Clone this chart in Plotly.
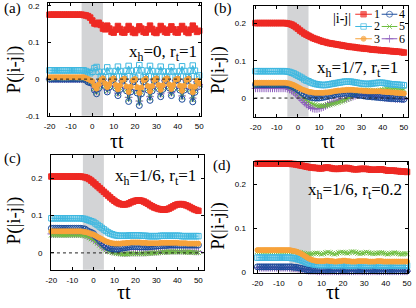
import plotly.graph_objects as go

# ---------------- data ----------------
T = list(range(-20, 51))  # tau*t grid

SERIES = ["1", "2", "3", "4", "5", "6"]

a_1 = [0.176,0.176,0.176,0.176,0.176,0.176,0.176,0.176,0.176,0.176,0.176,0.176,0.176,0.176,0.176,
       0.176,0.175,0.174,0.172,0.168,
       0.160,0.152,0.150,0.154,0.148,
       0.138,0.136,0.146,0.138,0.129,
       0.127,0.135,0.145,0.137,0.128,
       0.127,0.135,0.145,0.137,0.128,
       0.126,0.134,0.144,0.138,0.129,
       0.127,0.136,0.146,0.137,0.128,
       0.126,0.134,0.145,0.138,0.129,
       0.127,0.135,0.144,0.136,0.128,
       0.127,0.136,0.145,0.137,0.129,
       0.126,0.135,0.146,0.138,0.129,
       0.132]
a_2 = [0.024,0.024,0.024,0.024,0.024,0.024,0.024,0.024,0.024,0.024,0.024,0.024,0.024,0.024,0.024,
       0.024,0.024,0.022,0.019,0.016,
       0.020,0.030,0.033,0.020,0.008,
       0.006,0.020,0.032,0.022,0.008,
       0.005,0.022,0.034,0.022,0.007,
       0.005,0.023,0.036,0.023,0.006,
       0.004,0.024,0.038,0.024,0.006,
       0.005,0.023,0.036,0.022,0.006,
       0.006,0.022,0.034,0.021,0.007,
       0.006,0.021,0.033,0.021,0.007,
       0.006,0.022,0.035,0.022,0.006,
       0.005,0.023,0.037,0.023,0.006,
       0.010]
a_3 = [0.005,0.005,0.005,0.005,0.005,0.005,0.005,0.005,0.005,0.005,0.005,0.005,0.005,0.005,0.005,
       0.005,0.005,0.003,0.000,-0.003,
       -0.006,-0.018,-0.026,-0.015,-0.002,
       0.002,-0.012,-0.022,-0.014,-0.001,
       0.002,-0.016,-0.028,-0.017,-0.002,
       0.001,-0.020,-0.035,-0.021,-0.003,
       0.000,-0.022,-0.038,-0.023,-0.003,
       0.001,-0.019,-0.033,-0.019,-0.002,
       0.002,-0.016,-0.029,-0.017,-0.001,
       0.002,-0.015,-0.027,-0.016,-0.001,
       0.001,-0.018,-0.032,-0.018,-0.002,
       0.001,-0.020,-0.036,-0.021,-0.004,
       -0.012]
a_4 = [0.000,0.000,0.000,0.000,0.000,0.000,0.000,0.000,0.000,0.000,0.000,0.000,0.000,0.000,0.000,
       0.000,0.000,-0.003,-0.008,-0.010,
       -0.012,-0.030,-0.040,-0.025,-0.005,
       0.000,-0.020,-0.035,-0.022,-0.004,
       0.000,-0.025,-0.045,-0.028,-0.006,
       0.000,-0.032,-0.061,-0.035,-0.008,
       -0.002,-0.038,-0.072,-0.040,-0.008,
       0.000,-0.030,-0.058,-0.032,-0.006,
       0.000,-0.026,-0.048,-0.028,-0.005,
       0.000,-0.024,-0.045,-0.026,-0.004,
       -0.001,-0.030,-0.055,-0.030,-0.006,
       0.000,-0.033,-0.062,-0.036,-0.010,
       -0.020]
a_5 = [0.001,0.001,0.001,0.001,0.001,0.001,0.001,0.001,0.001,0.001,0.001,0.001,0.001,0.001,0.001,
       0.001,0.000,-0.002,-0.006,-0.009,
       -0.012,-0.026,-0.036,-0.022,-0.004,
       0.001,-0.018,-0.032,-0.020,-0.003,
       0.001,-0.022,-0.040,-0.024,-0.004,
       0.000,-0.028,-0.055,-0.030,-0.006,
       -0.001,-0.034,-0.065,-0.036,-0.006,
       0.001,-0.027,-0.052,-0.028,-0.004,
       0.001,-0.023,-0.043,-0.025,-0.003,
       0.001,-0.021,-0.040,-0.023,-0.003,
       0.000,-0.027,-0.050,-0.027,-0.004,
       0.001,-0.029,-0.056,-0.032,-0.008,
       -0.016]
a_6 = [0.000,0.000,0.000,0.000,0.000,0.000,0.000,0.000,0.000,0.000,0.000,0.000,0.000,0.000,0.000,
       0.000,0.000,-0.002,-0.005,-0.008,
       -0.010,-0.024,-0.033,-0.020,-0.004,
       0.000,-0.017,-0.030,-0.018,-0.003,
       0.000,-0.020,-0.038,-0.022,-0.004,
       0.000,-0.026,-0.050,-0.028,-0.005,
       -0.001,-0.031,-0.060,-0.033,-0.006,
       0.000,-0.025,-0.048,-0.026,-0.004,
       0.000,-0.021,-0.040,-0.023,-0.003,
       0.000,-0.020,-0.037,-0.021,-0.003,
       0.000,-0.025,-0.046,-0.025,-0.004,
       0.000,-0.027,-0.052,-0.030,-0.007,
       -0.015]

b_1 = [0.201,0.201,0.201,0.201,0.201,0.201,0.201,0.201,0.201,0.201,0.201,0.201,0.201,0.201,0.201,
       0.200,0.199,0.197,0.194,0.190,
       0.186,0.181,0.177,0.173,0.170,
       0.167,0.164,0.161,0.159,0.157,
       0.155,0.153,0.151,0.150,0.148,
       0.147,0.146,0.145,0.144,0.143,
       0.142,0.141,0.140,0.139,0.138,
       0.137,0.137,0.136,0.135,0.134,
       0.134,0.133,0.132,0.132,0.131,
       0.130,0.130,0.129,0.129,0.128,
       0.128,0.127,0.127,0.126,0.126,
       0.125,0.125,0.124,0.124,0.123,
       0.122]
b_2 = [0.072,0.072,0.072,0.072,0.072,0.072,0.072,0.072,0.072,0.072,0.072,0.072,0.072,0.072,0.072,
       0.071,0.070,0.068,0.066,0.063,
       0.060,0.057,0.054,0.050,0.047,
       0.045,0.042,0.040,0.038,0.037,
       0.036,0.035,0.035,0.035,0.036,
       0.037,0.038,0.039,0.040,0.041,
       0.042,0.043,0.044,0.044,0.044,
       0.044,0.043,0.042,0.041,0.040,
       0.039,0.038,0.038,0.038,0.038,
       0.039,0.040,0.040,0.041,0.041,
       0.041,0.040,0.039,0.038,0.037,
       0.037,0.036,0.036,0.035,0.035,
       0.034]
b_3 = [0.041,0.041,0.041,0.041,0.041,0.041,0.041,0.041,0.041,0.041,0.041,0.041,0.041,0.041,0.041,
       0.040,0.039,0.037,0.035,0.032,
       0.029,0.026,0.023,0.021,0.019,
       0.017,0.016,0.015,0.014,0.014,
       0.014,0.014,0.014,0.015,0.015,
       0.016,0.017,0.018,0.019,0.020,
       0.020,0.021,0.021,0.022,0.022,
       0.022,0.022,0.021,0.021,0.020,
       0.020,0.019,0.019,0.018,0.018,
       0.018,0.018,0.018,0.018,0.018,
       0.017,0.017,0.016,0.016,0.015,
       0.015,0.014,0.014,0.013,0.013,
       0.012]
b_4 = [0.036,0.036,0.036,0.036,0.036,0.036,0.036,0.036,0.036,0.036,0.036,0.036,0.036,0.036,0.036,
       0.035,0.034,0.032,0.029,0.026,
       0.022,0.018,0.014,0.010,0.007,
       0.004,0.002,0.001,0.000,0.000,
       0.000,0.001,0.002,0.003,0.004,
       0.006,0.007,0.009,0.010,0.011,
       0.012,0.012,0.013,0.013,0.012,
       0.012,0.011,0.010,0.009,0.008,
       0.007,0.006,0.005,0.004,0.004,
       0.003,0.003,0.002,0.002,0.001,
       0.001,0.000,0.000,-0.001,-0.001,
       -0.001,-0.002,-0.002,-0.002,-0.003,
       -0.003]
b_5 = [0.034,0.034,0.034,0.034,0.034,0.034,0.034,0.034,0.034,0.034,0.034,0.034,0.034,0.034,0.034,
       0.033,0.031,0.028,0.024,0.019,
       0.014,0.009,0.004,-0.001,-0.005,
       -0.009,-0.013,-0.016,-0.018,-0.020,
       -0.021,-0.021,-0.021,-0.020,-0.019,
       -0.018,-0.016,-0.015,-0.013,-0.012,
       -0.010,-0.008,-0.006,-0.003,0.000,
       0.004,0.008,0.012,0.015,0.018,
       0.020,0.021,0.021,0.021,0.020,
       0.019,0.019,0.019,0.020,0.021,
       0.022,0.023,0.024,0.025,0.025,
       0.025,0.025,0.024,0.024,0.023,
       0.023]
b_6 = [0.026,0.026,0.026,0.026,0.026,0.026,0.026,0.026,0.026,0.026,0.026,0.026,0.026,0.026,0.026,
       0.025,0.023,0.020,0.016,0.011,
       0.006,0.000,-0.006,-0.012,-0.017,
       -0.021,-0.025,-0.028,-0.029,-0.029,
       -0.028,-0.026,-0.024,-0.021,-0.018,
       -0.015,-0.012,-0.010,-0.008,-0.006,
       -0.004,-0.003,-0.002,-0.001,0.000,
       0.002,0.004,0.006,0.008,0.009,
       0.010,0.010,0.010,0.009,0.008,
       0.007,0.006,0.005,0.004,0.003,
       0.002,0.001,0.000,0.000,-0.001,
       -0.001,-0.002,-0.002,-0.002,-0.003,
       -0.003]

c_1 = [0.205,0.205,0.205,0.205,0.205,0.205,0.205,0.205,0.205,0.205,0.205,0.205,0.205,0.205,0.205,
       0.204,0.203,0.201,0.198,0.194,
       0.189,0.184,0.179,0.174,0.169,
       0.164,0.159,0.154,0.149,0.144,
       0.140,0.136,0.133,0.131,0.130,
       0.130,0.131,0.133,0.136,0.138,
       0.140,0.141,0.141,0.140,0.138,
       0.135,0.132,0.128,0.125,0.122,
       0.120,0.118,0.117,0.116,0.116,
       0.117,0.119,0.122,0.125,0.128,
       0.130,0.131,0.131,0.130,0.128,
       0.126,0.123,0.120,0.117,0.115,
       0.113]
c_2 = [0.093,0.093,0.093,0.093,0.093,0.093,0.093,0.093,0.093,0.093,0.093,0.093,0.093,0.093,0.093,
       0.092,0.091,0.089,0.087,0.085,
       0.083,0.079,0.075,0.071,0.067,
       0.063,0.059,0.055,0.052,0.050,
       0.048,0.047,0.046,0.046,0.046,
       0.046,0.046,0.047,0.047,0.047,
       0.047,0.047,0.047,0.046,0.046,
       0.046,0.045,0.045,0.045,0.045,
       0.045,0.045,0.046,0.046,0.046,
       0.046,0.046,0.046,0.046,0.046,
       0.046,0.046,0.045,0.045,0.045,
       0.045,0.045,0.045,0.045,0.045,
       0.045]
c_3 = [0.058,0.058,0.058,0.058,0.058,0.058,0.058,0.058,0.058,0.058,0.058,0.058,0.058,0.058,0.058,
       0.057,0.056,0.055,0.053,0.051,
       0.049,0.046,0.043,0.040,0.037,
       0.034,0.031,0.029,0.027,0.026,
       0.025,0.025,0.025,0.025,0.026,
       0.026,0.027,0.027,0.028,0.028,
       0.028,0.028,0.028,0.027,0.027,
       0.027,0.026,0.026,0.026,0.026,
       0.026,0.026,0.027,0.027,0.027,
       0.027,0.027,0.027,0.027,0.027,
       0.027,0.026,0.026,0.026,0.026,
       0.025,0.025,0.025,0.025,0.025,
       0.025]
c_4 = [0.066,0.066,0.066,0.066,0.066,0.066,0.066,0.066,0.066,0.066,0.066,0.066,0.066,0.066,0.066,
       0.065,0.064,0.060,0.057,0.055,
       0.052,0.044,0.040,0.032,0.027,
       0.022,0.017,0.014,0.012,0.011,
       0.010,0.010,0.011,0.012,0.013,
       0.014,0.015,0.016,0.017,0.017,
       0.017,0.017,0.016,0.016,0.016,
       0.016,0.016,0.017,0.017,0.018,
       0.018,0.019,0.019,0.020,0.020,
       0.020,0.021,0.021,0.021,0.021,
       0.021,0.021,0.021,0.021,0.021,
       0.021,0.021,0.021,0.021,0.021,
       0.021]
c_5 = [0.048,0.048,0.048,0.048,0.048,0.048,0.048,0.048,0.048,0.048,0.048,0.048,0.048,0.048,0.048,
       0.047,0.046,0.044,0.041,0.038,
       0.035,0.030,0.026,0.021,0.016,
       0.012,0.008,0.005,0.003,0.001,
       0.000,-0.001,-0.002,-0.002,-0.003,
       -0.003,-0.003,-0.002,-0.002,-0.002,
       -0.002,-0.002,-0.002,-0.002,-0.002,
       -0.002,-0.001,-0.001,0.000,0.000,
       0.000,0.001,0.001,0.002,0.002,
       0.002,0.003,0.003,0.003,0.003,
       0.003,0.003,0.003,0.003,0.002,
       0.002,0.002,0.002,0.001,0.001,
       0.001]
c_6 = [0.051,0.051,0.051,0.051,0.051,0.051,0.051,0.051,0.051,0.051,0.051,0.051,0.051,0.051,0.051,
       0.050,0.049,0.047,0.044,0.041,
       0.038,0.033,0.029,0.024,0.019,
       0.015,0.011,0.008,0.006,0.004,
       0.003,0.002,0.001,0.001,0.000,
       0.000,0.000,0.001,0.001,0.001,
       0.001,0.001,0.001,0.001,0.001,
       0.001,0.002,0.002,0.003,0.003,
       0.003,0.004,0.004,0.005,0.005,
       0.005,0.006,0.006,0.006,0.006,
       0.006,0.006,0.006,0.006,0.005,
       0.005,0.005,0.005,0.004,0.004,
       0.004]

d_1 = [0.247,0.247,0.247,0.247,0.247,0.247,0.247,0.247,0.247,0.247,0.247,0.247,0.247,0.247,0.247,
       0.247,0.246,0.246,0.245,0.244,
       0.243,0.242,0.241,0.240,0.239,
       0.238,0.238,0.237,0.237,0.236,
       0.236,0.237,0.238,0.238,0.237,
       0.236,0.235,0.235,0.235,0.236,
       0.236,0.237,0.237,0.236,0.235,
       0.234,0.234,0.234,0.235,0.235,
       0.235,0.235,0.234,0.233,0.233,
       0.233,0.233,0.234,0.234,0.233,
       0.232,0.231,0.231,0.231,0.231,
       0.230,0.230,0.229,0.229,0.229,
       0.228]
d_2 = [0.034,0.034,0.034,0.034,0.034,0.034,0.034,0.034,0.034,0.034,0.034,0.034,0.034,0.034,0.034,
       0.034,0.033,0.033,0.032,0.030,
       0.029,0.027,0.025,0.023,0.021,
       0.020,0.019,0.018,0.018,0.017,
       0.017,0.017,0.017,0.017,0.017,
       0.017,0.016,0.016,0.017,0.017,
       0.017,0.017,0.016,0.016,0.016,
       0.016,0.017,0.017,0.017,0.016,
       0.016,0.016,0.016,0.017,0.017,
       0.017,0.016,0.016,0.016,0.016,
       0.016,0.016,0.016,0.016,0.016,
       0.016,0.016,0.016,0.016,0.016,
       0.016]
d_3 = [0.051,0.051,0.051,0.051,0.051,0.051,0.051,0.051,0.051,0.051,0.051,0.051,0.051,0.051,0.051,
       0.051,0.050,0.049,0.048,0.046,
       0.044,0.041,0.038,0.035,0.032,
       0.030,0.028,0.027,0.026,0.026,
       0.026,0.026,0.027,0.027,0.026,
       0.026,0.025,0.025,0.026,0.026,
       0.027,0.027,0.026,0.026,0.025,
       0.025,0.025,0.026,0.026,0.026,
       0.026,0.026,0.025,0.025,0.025,
       0.025,0.026,0.026,0.026,0.025,
       0.025,0.025,0.025,0.025,0.025,
       0.025,0.025,0.025,0.025,0.025,
       0.025]
d_4 = [0.013,0.013,0.013,0.013,0.013,0.013,0.013,0.013,0.013,0.013,0.013,0.013,0.013,0.013,0.013,
       0.013,0.013,0.012,0.012,0.011,
       0.010,0.009,0.008,0.007,0.006,
       0.006,0.005,0.005,0.005,0.005,
       0.005,0.005,0.005,0.005,0.005,
       0.005,0.005,0.004,0.004,0.005,
       0.005,0.005,0.005,0.004,0.004,
       0.004,0.005,0.005,0.005,0.004,
       0.004,0.004,0.004,0.005,0.005,
       0.005,0.004,0.004,0.004,0.004,
       0.004,0.004,0.004,0.004,0.004,
       0.004,0.004,0.004,0.004,0.004,
       0.004]
d_5 = [0.048,0.048,0.048,0.048,0.048,0.048,0.048,0.048,0.048,0.048,0.048,0.048,0.048,0.048,0.048,
       0.048,0.048,0.047,0.047,0.046,
       0.045,0.044,0.043,0.042,0.042,
       0.042,0.043,0.044,0.044,0.043,
       0.042,0.043,0.045,0.046,0.045,
       0.043,0.042,0.043,0.045,0.046,
       0.046,0.045,0.044,0.045,0.047,
       0.047,0.046,0.044,0.043,0.044,
       0.045,0.046,0.045,0.044,0.043,
       0.043,0.044,0.045,0.045,0.044,
       0.043,0.042,0.043,0.044,0.045,
       0.044,0.043,0.042,0.042,0.043,
       0.043]
d_6 = [0.011,0.011,0.011,0.011,0.011,0.011,0.011,0.011,0.011,0.011,0.011,0.011,0.011,0.011,0.011,
       0.011,0.011,0.010,0.010,0.009,
       0.008,0.007,0.006,0.005,0.004,
       0.004,0.004,0.004,0.003,0.003,
       0.003,0.003,0.003,0.003,0.003,
       0.003,0.003,0.003,0.003,0.003,
       0.003,0.003,0.003,0.003,0.003,
       0.003,0.003,0.003,0.003,0.003,
       0.003,0.003,0.003,0.003,0.003,
       0.003,0.003,0.003,0.003,0.003,
       0.003,0.003,0.003,0.003,0.003,
       0.003,0.003,0.003,0.003,0.003,
       0.003]

X_TICKS = [-20, -10, 0, 10, 20, 30, 40, 50]
X_TICK_TEXT = ["-20", "-10", "0", "10", "20", "30", "40", "50"]
Y_TICKS_A = [-0.1, 0, 0.1, 0.2]
Y_TICK_TEXT_A = ["-0.1", "0", "0.1", "0.2"]
Y_TICKS = [0, 0.1, 0.2]
Y_TICK_TEXT = ["0", "0.1", "0.2"]
QUENCH = (-5, 5)

PANEL_LABELS = ["(a)", "(b)", "(c)", "(d)"]
PANEL_TEXT = ["x<sub>h</sub>=0, r<sub>t</sub>=1",
              "x<sub>h</sub>=1/7, r<sub>t</sub>=1",
              "x<sub>h</sub>=1/6, r<sub>t</sub>=1",
              "x<sub>h</sub>=1/6, r<sub>t</sub>=0.2"]

# ---------------- styling ----------------
W, H = 416, 308
SERIF = "Liberation Serif, Times New Roman, serif"
SANS = "Liberation Sans, Arial, sans-serif"
COLORS = ["#ee2a24", "#3fb8e0", "#f7a23a", "#1c4d9c", "#6cbd3c", "#8c5bbd"]
SYMBOLS = ["square", "square-open", "circle", "circle-open", "x-thin", "cross-thin"]
MSIZE = [5.5, 5.5, 5, 6, 5, 5.5]
DRAW_ORDER = [5, 4, 3, 1, 2, 0]

def px_dom_x(a, b):
    return [a / W, b / W]

def px_dom_y(top, bottom):
    return [1 - bottom / H, 1 - top / H]

panels = [
    dict(data=[a_1, a_2, a_3, a_4, a_5, a_6], xd=(44, 200), yd=(2, 117), xr=[-20.7, 50.7],
         yr=[-0.1, 0.208], yt=(Y_TICKS_A, Y_TICK_TEXT_A), zero=True,
         lab=(8, 8), txt=(198, 53), yt_pos=(9, 70), xt_pos=(114, 143)),
    dict(data=[b_1, b_2, b_3, b_4, b_5, b_6], xd=(255, 412), yd=(5, 118), xr=[-20.5, 52.0],
         yr=[-0.05, 0.247], yt=(Y_TICKS, Y_TICK_TEXT), zero=True,
         lab=(223, 8), txt=(404, 69), yt_pos=(217, 70), xt_pos=(330, 143)),
    dict(data=[c_1, c_2, c_3, c_4, c_5, c_6], xd=(47, 203), yd=(157, 274), xr=[-20.2, 52.5],
         yr=[-0.045, 0.263], yt=(Y_TICKS, Y_TICK_TEXT), zero=True,
         lab=(8, 161), txt=(197, 180), yt_pos=(9, 224), xt_pos=(122, 297)),
    dict(data=[d_1, d_2, d_3, d_4, d_5, d_6], xd=(255, 412), yd=(164, 277), xr=[-21.4, 50.5],
         yr=[0, 0.251], yt=(Y_TICKS, Y_TICK_TEXT), zero=False,
         lab=(222, 168), txt=(408, 194), yt_pos=(217, 229), xt_pos=(335, 297)),
]

fig = go.Figure()
shapes = []
annotations = []

for p_i, p in enumerate(panels):
    n = "" if p_i == 0 else str(p_i + 1)
    xa, ya = "x" + n, "y" + n
    for s in DRAW_ORDER:
        c = COLORS[s]
        fig.add_trace(go.Scatter(
            x=T, y=p["data"][s], xaxis=xa, yaxis=ya, mode="lines+markers",
            name=SERIES[s], showlegend=False, cliponaxis=False,
            line=dict(color=c, width=1),
            marker=dict(symbol=SYMBOLS[s], size=MSIZE[s], color=c,
                        line=dict(color=c, width=1)),
        ))
    axis_common = dict(showline=True, linecolor="black", linewidth=1, mirror="ticks",
                       ticks="inside", ticklen=3, tickwidth=1, tickcolor="black",
                       showgrid=False, zeroline=False,
                       tickfont=dict(family=SANS, size=8, color="black"))
    fig.layout["xaxis" + n] = dict(axis_common, domain=px_dom_x(*p["xd"]), range=p["xr"],
                                   anchor=ya, tickvals=X_TICKS, ticktext=X_TICK_TEXT,
                                   ticklabelstandoff=3)
    fig.layout["yaxis" + n] = dict(axis_common, domain=px_dom_y(*p["yd"]), range=p["yr"],
                                   anchor=xa, tickvals=p["yt"][0], ticktext=p["yt"][1],
                                   ticklabelstandoff=6)
    shapes.append(dict(type="rect", xref=xa, yref=ya + " domain", x0=QUENCH[0], x1=QUENCH[1],
                       y0=0, y1=1, fillcolor="#d3d4d6", line=dict(width=0), layer="below"))
    if p["zero"]:
        shapes.append(dict(type="line", xref=xa + " domain", yref=ya, x0=0, x1=1, y0=0, y1=0,
                           line=dict(color="#222", width=1, dash="dot"), layer="above"))
    annotations.append(dict(text=PANEL_LABELS[p_i], xref="paper", yref="paper",
                            x=p["lab"][0] / W, y=1 - p["lab"][1] / H, showarrow=False,
                            xanchor="center", yanchor="middle",
                            font=dict(family=SERIF, size=15, color="black")))
    annotations.append(dict(text=PANEL_TEXT[p_i], xref="paper", yref="paper",
                            x=p["txt"][0] / W, y=1 - p["txt"][1] / H, showarrow=False,
                            xanchor="right", yanchor="middle",
                            font=dict(family=SERIF, size=17, color="black")))
    annotations.append(dict(text="P(|i-j|)", xref="paper", yref="paper", textangle=-90,
                            x=p["yt_pos"][0] / W, y=1 - p["yt_pos"][1] / H, showarrow=False,
                            xanchor="center", yanchor="middle",
                            font=dict(family=SERIF, size=19, color="black")))
    annotations.append(dict(text="τt", xref="paper", yref="paper",
                            x=p["xt_pos"][0] / W, y=1 - p["xt_pos"][1] / H, showarrow=False,
                            xanchor="center", yanchor="middle",
                            font=dict(family=SERIF, size=20, color="black")))

# ---------------- legend (panel b), drawn in a pixel-space overlay axis ----------------
LEG_COLS = [(358, 366.5, 375, 380), (385, 393, 401, 406)]
LEG_ROWS = [13.5, 26, 38.5]
for s in range(6):
    col, row = LEG_COLS[s // 3], LEG_ROWS[s % 3]
    c = COLORS[s]
    fig.add_trace(go.Scatter(
        x=[col[0], col[1], col[2]], y=[row, row, row], xaxis="x5", yaxis="y5",
        mode="lines+markers", showlegend=False, name=SERIES[s], hoverinfo="skip",
        line=dict(color=c, width=1),
        marker=dict(symbol=SYMBOLS[s], size=[0, MSIZE[s], 0], color=c,
                    line=dict(color=c, width=1)),
    ))
    annotations.append(dict(text=SERIES[s], xref="paper", yref="paper",
                            x=col[3] / W, y=1 - row / H, showarrow=False,
                            xanchor="center", yanchor="middle",
                            font=dict(family=SERIF, size=12, color="black")))
annotations.append(dict(text="|i-j|", xref="paper", yref="paper", x=344 / W, y=1 - 18 / H,
                        showarrow=False, xanchor="center", yanchor="middle",
                        font=dict(family=SERIF, size=14, color="black")))
fig.layout["xaxis5"] = dict(domain=[0, 1], range=[0, W], visible=False, anchor="y5", fixedrange=True)
fig.layout["yaxis5"] = dict(domain=[0, 1], range=[H, 0], visible=False, anchor="x5", fixedrange=True)

fig.update_layout(
    width=W, height=H, margin=dict(l=0, r=0, t=0, b=0),
    paper_bgcolor="white", plot_bgcolor="rgba(0,0,0,0)",
    showlegend=False, shapes=shapes, annotations=annotations,
)
fig.write_html("out.html", config={"displayModeBar": False},
               post_script="document.body.style.margin='0';document.body.style.overflow='hidden';")
